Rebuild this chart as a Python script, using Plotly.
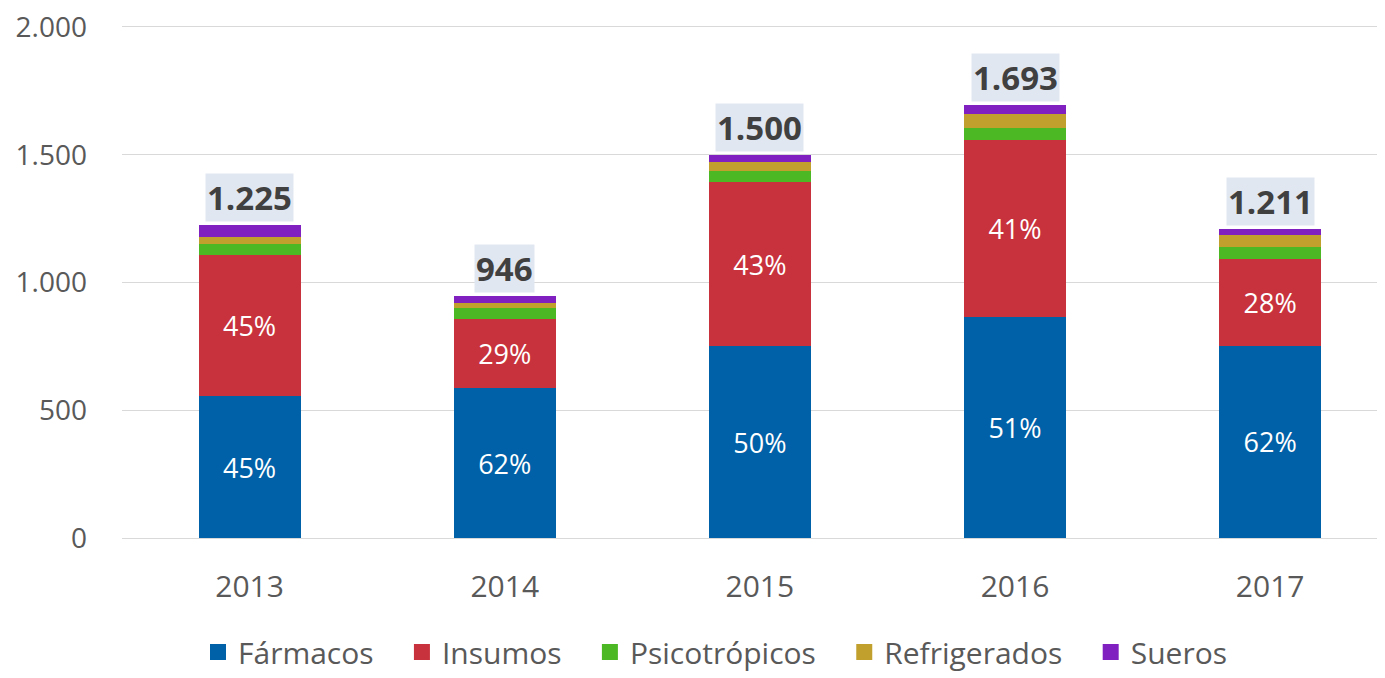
import plotly.graph_objects as go

years = ["2013", "2014", "2015", "2016", "2017"]
farmacos = [554, 587, 750, 863, 752]
insumos = [554, 272, 642, 694, 339]
psicotropicos = [43, 40, 45, 46, 48]
refrigerados = [28, 22, 33, 58, 46]
sueros = [46, 25, 30, 32, 26]
y_ticks = [0, 500, 1000, 1500, 2000]
y_tick_text = ["0", "500", "1.000", "1.500", "2.000"]

series = [
    ("Fármacos", farmacos, "#0061a8", True),
    ("Insumos", insumos, "#c8323c", True),
    ("Psicotrópicos", psicotropicos, "#4cb824", False),
    ("Refrigerados", refrigerados, "#c2a02e", False),
    ("Sueros", sueros, "#8020c0", False),
]

totals = [sum(v) for v in zip(farmacos, insumos, psicotropicos, refrigerados, sueros)]
FONT = "Open Sans"
GREY = "#595959"
NB = "\u00a0\u00a0\u00a0"

fig = go.Figure()
for name, vals, color, show_pct in series:
    if show_pct:
        txt = [f"{round(v / t * 100)}%" for v, t in zip(vals, totals)]
    else:
        txt = None
    fig.add_trace(go.Bar(
        name=name, x=years, y=vals, marker=dict(color=color, line=dict(width=0)),
        text=txt, textposition="inside" if show_pct else "none",
        insidetextanchor="middle", textangle=0,
        textfont=dict(family=FONT, size=27, color="white"),
        width=0.4, hoverinfo="skip", showlegend=False,
    ))

# legend entries with larger square swatches
for name, vals, color, _ in series:
    fig.add_trace(go.Scatter(
        name=name + NB, x=[None], y=[None], mode="markers",
        marker=dict(symbol="square", size=20, color=color), showlegend=True,
    ))

annotations = []
for i, t in enumerate(totals):
    s = f"{t:,}".replace(",", ".")
    annotations.append(dict(
        x=i, y=t, xref="x", yref="y", text=f"<b>{s}</b>", showarrow=False,
        xanchor="center", yanchor="bottom", yshift=3,
        font=dict(family=FONT, size=33, color="#404040"),
        bgcolor="#e1e7f0", borderpad=1,
    ))

fig.update_layout(
    annotations=annotations,
    width=1377, height=670,
    barmode="stack",
    margin=dict(l=114, r=0, t=9, b=140, autoexpand=False),
    paper_bgcolor="white", plot_bgcolor="white",
    font=dict(family=FONT, size=30, color=GREY),
    legend=dict(orientation="h", x=0.479, xanchor="center", y=-0.2687, yanchor="bottom",
                font=dict(family=FONT, size=30, color=GREY), itemsizing="trace",
                itemwidth=30, traceorder="normal"),
)
fig.update_xaxes(type="category", range=[-0.5, 4.45], showline=False, ticks="",
                 ticklabelstandoff=28, automargin=False,
                 tickfont=dict(family=FONT, size=30, color=GREY))
fig.update_yaxes(range=[0, 2039], tickvals=y_ticks, ticktext=y_tick_text,
                 showgrid=True, gridcolor="#d9d9d9", gridwidth=1,
                 zeroline=True, zerolinecolor="#d9d9d9", zerolinewidth=1,
                 ticklabelstandoff=34, automargin=False, ticklabeloverflow="allow",
                 tickfont=dict(family=FONT, size=28, color=GREY))

fig.write_html("out.html")
